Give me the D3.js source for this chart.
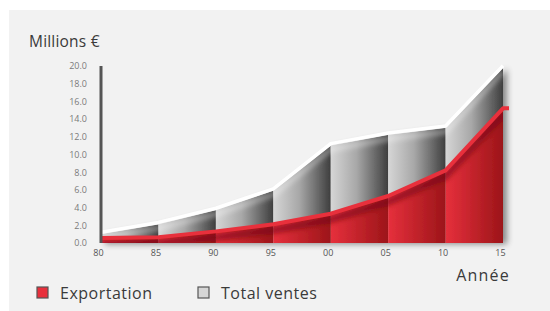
<!DOCTYPE html>
<html>
<head>
<meta charset="utf-8">
<script src="https://cdn.jsdelivr.net/npm/d3@7"></script>
<style>
  body { margin: 0; background: #fff; }
  svg { display: block; font-family: "Open Sans", sans-serif; }
</style>
</head>
<body>
<div id="chart"></div>
<script>
// values (millions of euros)
var years = ["80", "85", "90", "95", "00", "05", "10", "15"];
var totalSales = [1.0, 2.1, 3.7, 5.9, 11.0, 12.2, 13.0, 19.8];
var exportSales = [0.45, 0.55, 1.2, 2.0, 3.2, 5.2, 8.1, 15.1];
var yTicks = [0, 2, 4, 6, 8, 10, 12, 14, 16, 18, 20];
var legendItems = ["Exportation", "Total ventes"];

var width = 550, height = 311;

var svg = d3.select("#chart").append("svg")
  .attr("width", width)
  .attr("height", height);

var defs = svg.append("defs");

var grayGrad = defs.append("linearGradient").attr("id", "grayGrad");
grayGrad.append("stop").attr("offset", "0%").attr("stop-color", "#d6d6d6");
grayGrad.append("stop").attr("offset", "45%").attr("stop-color", "#a8a8a8");
grayGrad.append("stop").attr("offset", "100%").attr("stop-color", "#3e3e3e");

var redGrad = defs.append("linearGradient").attr("id", "redGrad");
redGrad.append("stop").attr("offset", "0%").attr("stop-color", "#e6303c");
redGrad.append("stop").attr("offset", "100%").attr("stop-color", "#9c1519");

var shadow = defs.append("filter").attr("id", "shadow")
  .attr("x", "-10%").attr("y", "-10%").attr("width", "130%").attr("height", "130%");
shadow.append("feGaussianBlur").attr("in", "SourceAlpha").attr("stdDeviation", 3);
shadow.append("feOffset").attr("dx", 4).attr("dy", 1).attr("result", "off");
shadow.append("feComponentTransfer").append("feFuncA").attr("type", "linear").attr("slope", 0.45);
var merge = shadow.append("feMerge");
merge.append("feMergeNode");
merge.append("feMergeNode").attr("in", "SourceGraphic");

var blur = defs.append("filter").attr("id", "blur")
  .attr("x", "-10%").attr("y", "-50%").attr("width", "120%").attr("height", "200%");
blur.append("feGaussianBlur").attr("stdDeviation", 2.5);

// background panel
svg.append("rect")
  .attr("x", 9).attr("y", 10)
  .attr("width", width - 9).attr("height", height - 10)
  .attr("fill", "#f2f2f2");

var x = d3.scalePoint().domain(years).range([101, 503]);
var y = d3.scaleLinear().domain([0, 20]).range([243, 66]);

var chart = svg.append("g").attr("filter", "url(#shadow)");

var segs = d3.range(years.length - 1);

// gray segments (total sales)
chart.selectAll(".gray").data(segs).enter().append("path")
  .attr("class", "gray")
  .attr("fill", "url(#grayGrad)")
  .attr("d", function(i) {
    return "M" + x(years[i]) + "," + y(0) +
      "L" + x(years[i]) + "," + y(totalSales[i]) +
      "L" + x(years[i + 1]) + "," + y(totalSales[i + 1]) +
      "L" + x(years[i + 1]) + "," + y(0) + "Z";
  });

// red segments (export)
chart.selectAll(".red").data(segs).enter().append("path")
  .attr("class", "red")
  .attr("fill", "url(#redGrad)")
  .attr("d", function(i) {
    return "M" + x(years[i]) + "," + y(0) +
      "L" + x(years[i]) + "," + y(exportSales[i]) +
      "L" + x(years[i + 1]) + "," + y(exportSales[i + 1]) +
      "L" + x(years[i + 1]) + "," + y(0) + "Z";
  });

// dark band under the red line
var clip = defs.append("clipPath").attr("id", "redClip");
clip.append("path").attr("d", d3.area()
  .x(function(d, i) { return x(years[i]); })
  .y0(y(0))
  .y1(function(d) { return y(d); })(exportSales));

chart.append("g").attr("clip-path", "url(#redClip)")
  .append("path")
  .attr("d", d3.line()
    .x(function(d, i) { return x(years[i]); })
    .y(function(d) { return y(d) + 5; })(exportSales))
  .attr("fill", "none")
  .attr("stroke", "#6a0a0e")
  .attr("stroke-opacity", 0.55)
  .attr("stroke-width", 7)
  .attr("filter", "url(#blur)");

// light band under the white line
var grayClip = defs.append("clipPath").attr("id", "grayClip");
grayClip.append("path").attr("d", d3.area()
  .x(function(d, i) { return x(years[i]); })
  .y0(function(d, i) { return y(exportSales[i]); })
  .y1(function(d) { return y(d); })(totalSales));

chart.append("g").attr("clip-path", "url(#grayClip)")
  .append("path")
  .attr("d", d3.line()
    .x(function(d, i) { return x(years[i]); })
    .y(function(d) { return y(d) + 4; })(totalSales))
  .attr("fill", "none")
  .attr("stroke", "#ffffff")
  .attr("stroke-opacity", 0.35)
  .attr("stroke-width", 5)
  .attr("filter", "url(#blur)");

// white total line
svg.append("path")
  .attr("d", d3.line()
    .x(function(d, i) { return x(years[i]); })
    .y(function(d) { return y(d) - 2; })(totalSales))
  .attr("fill", "none")
  .attr("stroke", "#ffffff")
  .attr("stroke-width", 3.5)
  .attr("stroke-linejoin", "round");

// red export line, with the little tail at the end
var redPts = exportSales.map(function(d, i) { return [x(years[i]), y(d) - 1]; });
redPts.push([x(years[years.length - 1]) + 6, y(exportSales[exportSales.length - 1]) - 1]);
svg.append("path")
  .attr("d", d3.line()(redPts))
  .attr("fill", "none")
  .attr("stroke", "#e8303c")
  .attr("stroke-width", 4)
  .attr("stroke-linejoin", "round");

// y axis
var yAxis = svg.append("g")
  .attr("transform", "translate(" + x(years[0]) + ",0)")
  .call(d3.axisLeft(y).tickValues(yTicks).tickSize(0).tickPadding(14)
    .tickFormat(d3.format(".1f")));
yAxis.select(".domain").remove();
yAxis.selectAll("text")
  .attr("fill", "#7a7a7a")
  .style("font-size", "9px")
  .style("font-family", "Open Sans, sans-serif");
svg.append("line")
  .attr("x1", x(years[0])).attr("x2", x(years[0]))
  .attr("y1", y(20)).attr("y2", y(0))
  .attr("stroke", "#555")
  .attr("stroke-width", 3);

// x axis labels
var xAxis = svg.append("g")
  .attr("transform", "translate(-3," + y(0) + ")")
  .call(d3.axisBottom(x).tickSize(0).tickPadding(7));
xAxis.select(".domain").remove();
xAxis.selectAll("text")
  .attr("fill", "#555")
  .style("font-size", "9px")
  .style("font-family", "Open Sans, sans-serif");

// titles
svg.append("text")
  .attr("x", 29).attr("y", 47)
  .attr("fill", "#3a3a3a")
  .style("font-size", "15.5px")
  .style("letter-spacing", "0.2px")
  .text("Millions €");

svg.append("text")
  .attr("x", 510).attr("y", 281)
  .attr("text-anchor", "end")
  .attr("fill", "#3a3a3a")
  .style("font-size", "16px")
  .style("letter-spacing", "1.2px")
  .text("Année");

// legend
var legendFill = ["#e8303c", "#d6d6d6"];
var legendX = [37, 198];
var legend = svg.selectAll(".legend").data(legendItems).enter().append("g")
  .attr("class", "legend")
  .attr("transform", function(d, i) { return "translate(" + legendX[i] + ",287)"; });
legend.append("rect")
  .attr("width", 11).attr("height", 11)
  .attr("fill", function(d, i) { return legendFill[i]; })
  .attr("stroke", "#555")
  .attr("stroke-width", 1.2);
legend.append("text")
  .attr("x", 23).attr("y", 11.5)
  .attr("fill", "#3a3a3a")
  .style("font-size", "16px")
  .style("letter-spacing", "0.5px")
  .text(function(d) { return d; });
</script>
</body>
</html>
